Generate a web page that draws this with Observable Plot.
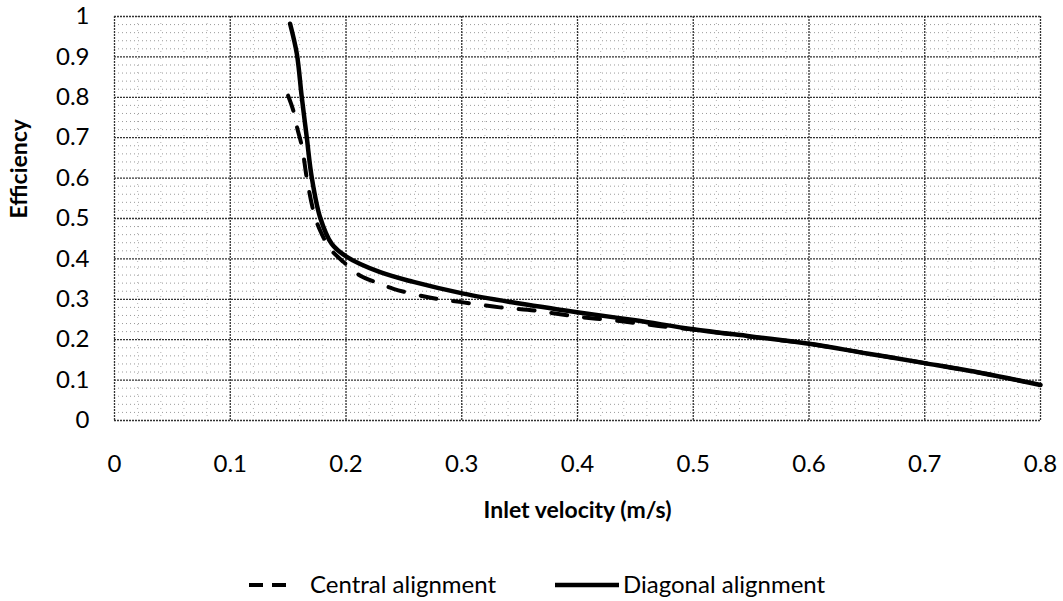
<!DOCTYPE html>
<html>
<head>
<meta charset="utf-8">
<script src="https://cdn.jsdelivr.net/npm/d3@7"></script>
<script src="https://cdn.jsdelivr.net/npm/@observablehq/plot@0.6"></script>
<style>
  body { margin: 0; background: #fff; font-family: Lato, "Open Sans", sans-serif; }
  #wrap { width: 1063px; }
  #legend { position: relative; height: 56px; width: 1063px; font-family: Lato, sans-serif; font-size: 24px; color: #000; }
  #legend .item { position: absolute; top: 27px; line-height: 24px; white-space: nowrap; }
  #legend svg { position: absolute; }
</style>
</head>
<body>
<div id="wrap"></div>
<script>
// ---- data ----
const diagonalX = [0.1517, 0.1575, 0.1618, 0.1661, 0.1704, 0.1776, 0.1877, 0.2007, 0.2295, 0.2583, 0.3015, 0.3447, 0.3995, 0.45, 0.5, 0.55, 0.6, 0.65, 0.7, 0.75, 0.8];
const diagonalY = [0.982, 0.908, 0.800, 0.701, 0.602, 0.503, 0.437, 0.405, 0.367, 0.343, 0.314, 0.292, 0.268, 0.248, 0.226, 0.208, 0.190, 0.166, 0.142, 0.117, 0.088];

const centralX = [0.150, 0.1545, 0.158, 0.162, 0.1667, 0.1733, 0.179, 0.1857, 0.198, 0.212, 0.228, 0.241, 0.271, 0.300, 0.333, 0.363, 0.400, 0.440, 0.470, 0.500, 0.550, 0.600, 0.650, 0.700, 0.750, 0.800];
const centralY = [0.804, 0.767, 0.722, 0.677, 0.590, 0.503, 0.462, 0.427, 0.392, 0.359, 0.340, 0.326, 0.305, 0.293, 0.280, 0.272, 0.257, 0.245, 0.234, 0.225, 0.207, 0.190, 0.166, 0.142, 0.117, 0.088];

const xTicks = [0, 0.1, 0.2, 0.3, 0.4, 0.5, 0.6, 0.7, 0.8];
const yTicks = [0, 0.1, 0.2, 0.3, 0.4, 0.5, 0.6, 0.7, 0.8, 0.9, 1];
const xMinorTicks = [0.02, 0.04, 0.06, 0.08, 0.12, 0.14, 0.16, 0.18, 0.22, 0.24, 0.26, 0.28, 0.32, 0.34, 0.36, 0.38, 0.42, 0.44, 0.46, 0.48, 0.52, 0.54, 0.56, 0.58, 0.62, 0.64, 0.66, 0.68, 0.72, 0.74, 0.76, 0.78];
const yMinorTicks = [0.02, 0.04, 0.06, 0.08, 0.12, 0.14, 0.16, 0.18, 0.22, 0.24, 0.26, 0.28, 0.32, 0.34, 0.36, 0.38, 0.42, 0.44, 0.46, 0.48, 0.52, 0.54, 0.56, 0.58, 0.62, 0.64, 0.66, 0.68, 0.72, 0.74, 0.76, 0.78, 0.82, 0.84, 0.86, 0.88, 0.92, 0.94, 0.96, 0.98];

const seriesNames = ["Central alignment", "Diagonal alignment"];
const xLabel = "Inlet velocity (m/s)";
const yLabel = "Efficiency";

// ---- build tables ----
const diagonal = diagonalX.map((x, i) => ({x, y: diagonalY[i]}));
const central = centralX.map((x, i) => ({x, y: centralY[i]}));
const fmt = d => String(d);

const chart = Plot.plot({
  width: 1063,
  height: 545,
  marginLeft: 114,
  marginRight: 23,
  marginTop: 16,
  marginBottom: 125,
  style: { fontFamily: "Lato, sans-serif", fontSize: "24px", color: "#000", background: "#fff" },
  x: { domain: [0, 0.8], ticks: xTicks, tickFormat: fmt, tickSize: 0, tickPadding: 34, label: null },
  y: { domain: [0, 1], ticks: yTicks, tickFormat: fmt, tickSize: 0, tickPadding: 25, label: null },
  marks: [
    Plot.ruleY(yMinorTicks, { stroke: "#9a9a9a", strokeWidth: 1, strokeDasharray: "1,3" }),
    Plot.ruleX(xMinorTicks, { stroke: "#b0b0b0", strokeWidth: 1, strokeDasharray: "1,6" }),
    Plot.ruleY(yTicks, { stroke: "#333", strokeWidth: 1.3, strokeDasharray: "2,1" }),
    Plot.ruleX(xTicks, { stroke: "#333", strokeWidth: 1.3, strokeDasharray: "2,1" }),
    Plot.line(central, { x: "x", y: "y", stroke: "#000", strokeWidth: 4, strokeDasharray: "16,17", curve: "catmull-rom" }),
    Plot.line(diagonal, { x: "x", y: "y", stroke: "#000", strokeWidth: 4.5, curve: "catmull-rom" }),
    Plot.text([xLabel], { frameAnchor: "bottom", dy: 97, fontWeight: "bold", fontSize: 23, fill: "#000" }),
    Plot.text([yLabel], { frameAnchor: "left", dx: -95, rotate: -90, fontWeight: "bold", fontSize: 23, fill: "#000" })
  ]
});

document.getElementById("wrap").appendChild(chart);

// ---- legend (HTML, below the SVG) ----
const legend = document.createElement("div");
legend.id = "legend";
legend.innerHTML = `
  <svg width="40" height="10" style="left:249px;top:35px"><line x1="0" y1="5" x2="40" y2="5" stroke="#000" stroke-width="4" stroke-dasharray="14,9"/></svg>
  <span class="item" style="left:310px">${seriesNames[0]}</span>
  <svg width="64" height="10" style="left:555px;top:35px"><line x1="0" y1="5" x2="64" y2="5" stroke="#000" stroke-width="4.5"/></svg>
  <span class="item" style="left:623px">${seriesNames[1]}</span>
`;
document.getElementById("wrap").appendChild(legend);
</script>
</body>
</html>
